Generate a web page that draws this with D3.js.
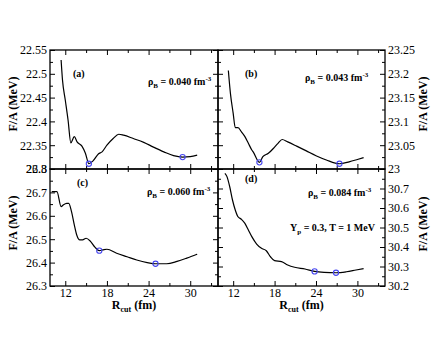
<!DOCTYPE html>
<meta charset="utf-8">
<style>
body { margin: 0; background: #fff; }
text { font-family: "Liberation Serif", "Times New Roman", Times, serif; }
.curve { fill: none; stroke: #000; stroke-width: 1.2px; }
.mark { fill: none; stroke: #4646f0; stroke-width: 1.1px; }
.axis path, .axis line { stroke: #000; }
.axis text { font-size: 12px; font-family: "Liberation Serif", Times, serif; fill: #000; }
.lbl { font-size: 10px; font-weight: bold; }
.title { font-size: 12px; font-weight: bold; }
</style>
<body>
<div id="chart"></div>
<script src="https://d3js.org/d3.v7.min.js"></script>
<script>
// ---- data ----
var rA = [11.4, 11.6, 12.0, 12.4, 12.8, 13.3, 13.7, 14.4, 14.9, 15.4, 16.0, 16.8, 17.3, 18.0, 18.9, 19.7, 20.4, 21.8, 23.3, 24.7, 26.2, 27.6, 28.9, 30.0, 31.0];
var fA = [22.529, 22.487, 22.445, 22.403, 22.355, 22.368, 22.357, 22.348, 22.333, 22.311, 22.317, 22.332, 22.336, 22.350, 22.364, 22.373, 22.371, 22.364, 22.356, 22.346, 22.336, 22.328, 22.325, 22.326, 22.329];
var minRA = [15.4, 28.9], minFA = [22.311, 22.325];

var rB = [11.3, 11.6, 12.0, 12.3, 12.7, 13.2, 13.7, 14.2, 14.7, 14.9, 15.8, 16.3, 17.1, 18.0, 18.5, 19.1, 19.9, 21.2, 22.6, 24.0, 25.5, 27.4, 28.8, 30.0, 30.9];
var fB = [23.207, 23.159, 23.117, 23.087, 23.087, 23.078, 23.068, 23.054, 23.040, 23.036, 23.014, 23.026, 23.033, 23.046, 23.054, 23.062, 23.057, 23.048, 23.038, 23.028, 23.019, 23.011, 23.015, 23.020, 23.024];
var minRB = [15.8, 27.4], minFB = [23.014, 23.011];

var rC = [10.05, 10.8, 11.4, 11.7, 12.2, 12.5, 12.9, 13.3, 13.65, 14.1, 14.5, 15.0, 15.6, 16.3, 16.9, 17.4, 18.0, 19.4, 20.9, 22.3, 23.8, 25.0, 26.6, 28.1, 29.5, 31.0];
var fC = [26.703, 26.703, 26.639, 26.646, 26.653, 26.653, 26.618, 26.561, 26.518, 26.497, 26.497, 26.504, 26.492, 26.465, 26.451, 26.454, 26.457, 26.440, 26.425, 26.411, 26.400, 26.395, 26.395, 26.405, 26.419, 26.436];
var minRC = [16.9, 25.0], minFC = [26.451, 26.395];

var rD = [10.8, 11.1, 11.5, 11.9, 12.3, 12.7, 13.2, 13.7, 14.2, 14.7, 15.4, 16.1, 16.8, 17.4, 18.0, 19.0, 19.9, 20.9, 22.4, 23.8, 25.2, 26.9, 28.4, 29.8, 30.9];
var fD = [30.778, 30.761, 30.709, 30.641, 30.590, 30.555, 30.542, 30.521, 30.487, 30.453, 30.415, 30.393, 30.381, 30.350, 30.330, 30.325, 30.308, 30.296, 30.287, 30.275, 30.270, 30.268, 30.273, 30.282, 30.289];
var minRD = [23.8, 26.9], minFD = [30.275, 30.268];

var xMajor = [12, 18, 24, 30];
var xMinor = [15, 21, 27, 33];
var yTicksA = [22.3, 22.35, 22.4, 22.45, 22.5, 22.55];
var yTicksB = [23, 23.05, 23.1, 23.15, 23.2, 23.25];
var yTicksC = [26.3, 26.4, 26.5, 26.6, 26.7, 26.8];
var yTicksD = [30.2, 30.3, 30.4, 30.5, 30.6, 30.7, 30.8];
var densities = ["0.040", "0.043", "0.060", "0.084"];
var letters = ["(a)", "(b)", "(c)", "(d)"];

(function() {
// ---- layout ----
var W = 436, H = 337;
var x0L = 50, x0R = 218, x1R = 385, yTop = 50, yMid = 169, yBot = 286;

var svg = d3.select("#chart").append("svg")
    .attr("width", W).attr("height", H);

function minorsOf(t) {
  var m = [];
  for (var i = 0; i < t.length - 1; i++) m.push((t[i] + t[i + 1]) / 2);
  return m;
}
function fmt(v) { return String(+v.toFixed(2)); }

var panels = [
  {r: rA, f: fA, mr: minRA, mf: minFA, ticks: yTicksA, x0: x0L, x1: x0R, y0: yTop, y1: yMid, side: "left", xlab: false,
   rho: densities[0], letter: letters[0], lx: 73, ly: 77, px: 148, py: 85, ty: 104},
  {r: rB, f: fB, mr: minRB, mf: minFB, ticks: yTicksB, x0: x0R, x1: x1R, y0: yTop, y1: yMid, side: "right", xlab: false,
   rho: densities[1], letter: letters[1], lx: 245, ly: 77, px: 305, py: 81, ty: 104},
  {r: rC, f: fC, mr: minRC, mf: minFC, ticks: yTicksC, x0: x0L, x1: x0R, y0: yMid, y1: yBot, side: "left", xlab: true,
   rho: densities[2], letter: letters[2], lx: 77, ly: 186, px: 147, py: 195, ty: 223},
  {r: rD, f: fD, mr: minRD, mf: minFD, ticks: yTicksD, x0: x0R, x1: x1R, y0: yMid, y1: yBot, side: "right", xlab: true,
   rho: densities[3], letter: letters[3], lx: 245, ly: 182, px: 308, py: 196, ty: 224, hide: [30.8]}
];

panels.forEach(function(p) {
  var x = d3.scaleLinear().domain([9.8, 34]).range([p.x0, p.x1]);
  var y = d3.scaleLinear().domain(d3.extent(p.ticks)).range([p.y1, p.y0]);
  var g = svg.append("g");

  // x ticks, pointing inward top and bottom
  g.append("g").attr("class", "axis").attr("transform", "translate(0," + p.y1 + ")")
    .call(d3.axisBottom(x).tickValues(xMajor).tickSizeInner(-5).tickSizeOuter(0).tickPadding(2)
      .tickFormat(p.xlab ? d3.format("d") : function() { return ""; }));
  g.append("g").attr("class", "axis").attr("transform", "translate(0," + p.y1 + ")")
    .call(d3.axisBottom(x).tickValues(xMinor).tickSizeInner(-3).tickSizeOuter(0).tickFormat(""));
  g.append("g").attr("class", "axis").attr("transform", "translate(0," + p.y0 + ")")
    .call(d3.axisTop(x).tickValues(xMajor).tickSizeInner(-5).tickSizeOuter(0).tickFormat(""));
  g.append("g").attr("class", "axis").attr("transform", "translate(0," + p.y0 + ")")
    .call(d3.axisTop(x).tickValues(xMinor).tickSizeInner(-3).tickSizeOuter(0).tickFormat(""));

  // y ticks, labels on the outer side only
  var hide = p.hide || [];
  var outer = p.side === "left" ? d3.axisLeft : d3.axisRight;
  var inner = p.side === "left" ? d3.axisRight : d3.axisLeft;
  var xl = p.side === "left" ? p.x0 : p.x1, xp = p.side === "left" ? p.x1 : p.x0;
  g.append("g").attr("class", "axis").attr("transform", "translate(" + xl + ",0)")
    .call(outer(y).tickValues(p.ticks).tickSizeInner(-5).tickSizeOuter(0).tickPadding(3)
      .tickFormat(function(v) { return hide.indexOf(v) >= 0 ? "" : fmt(v); }));
  g.append("g").attr("class", "axis").attr("transform", "translate(" + xl + ",0)")
    .call(outer(y).tickValues(minorsOf(p.ticks)).tickSizeInner(-3).tickSizeOuter(0).tickFormat(""));
  g.append("g").attr("class", "axis").attr("transform", "translate(" + xp + ",0)")
    .call(inner(y).tickValues(p.ticks).tickSizeInner(-5).tickSizeOuter(0).tickFormat(""));
  g.append("g").attr("class", "axis").attr("transform", "translate(" + xp + ",0)")
    .call(inner(y).tickValues(minorsOf(p.ticks)).tickSizeInner(-3).tickSizeOuter(0).tickFormat(""));
  g.selectAll(".axis path").remove();

  // frame
  g.append("rect").attr("x", p.x0).attr("y", p.y0)
    .attr("width", p.x1 - p.x0).attr("height", p.y1 - p.y0)
    .attr("fill", "none").attr("stroke", "#000").attr("stroke-width", 1.3);

  // curve
  var pts = p.r.map(function(d, i) { return [d, p.f[i]]; });
  var line = d3.line().x(function(d) { return x(d[0]); }).y(function(d) { return y(d[1]); })
    .curve(d3.curveMonotoneX);
  g.append("path").datum(pts).attr("class", "curve").attr("d", line);

  // minima
  g.selectAll("circle").data(p.mr).enter().append("circle")
    .attr("class", "mark")
    .attr("cx", function(d) { return x(d); })
    .attr("cy", function(d, i) { return y(p.mf[i]); })
    .attr("r", 2.6);

  // panel letter and density
  g.append("text").attr("class", "lbl").attr("x", p.lx).attr("y", p.ly).text(p.letter);
  var t = g.append("text").attr("class", "lbl").attr("x", p.px).attr("y", p.py);
  t.append("tspan").text("\u03c1");
  t.append("tspan").attr("font-size", "7px").attr("dy", 3).text("B");
  t.append("tspan").attr("dy", -3).text(" = " + p.rho + " fm");
  t.append("tspan").attr("font-size", "7px").attr("dy", -4).text("-3");

  // y title
  var tx = p.side === "left" ? 13 : 423;
  svg.append("text").attr("class", "title")
    .attr("transform", "translate(" + tx + "," + p.ty + ") rotate(-90)")
    .attr("text-anchor", "middle").attr("dy", "0.35em").text("F/A (MeV)");

  // x title
  if (p.xlab) {
    var xt = svg.append("text").attr("class", "title")
      .attr("x", (p.x0 + p.x1) / 2).attr("y", 309).attr("text-anchor", "middle");
    xt.append("tspan").text("R");
    xt.append("tspan").attr("font-size", "8px").attr("dy", 3).text("cut");
    xt.append("tspan").attr("dy", -3).text(" (fm)");
  }
});

// extra note in panel (d)
var note = svg.append("text").attr("class", "lbl").attr("x", 290).attr("y", 231);
note.append("tspan").text("Y");
note.append("tspan").attr("font-size", "7px").attr("dy", 3).text("p");
note.append("tspan").attr("dy", -3).text(" = 0.3, T = 1 MeV");
})();
</script>
</body>
